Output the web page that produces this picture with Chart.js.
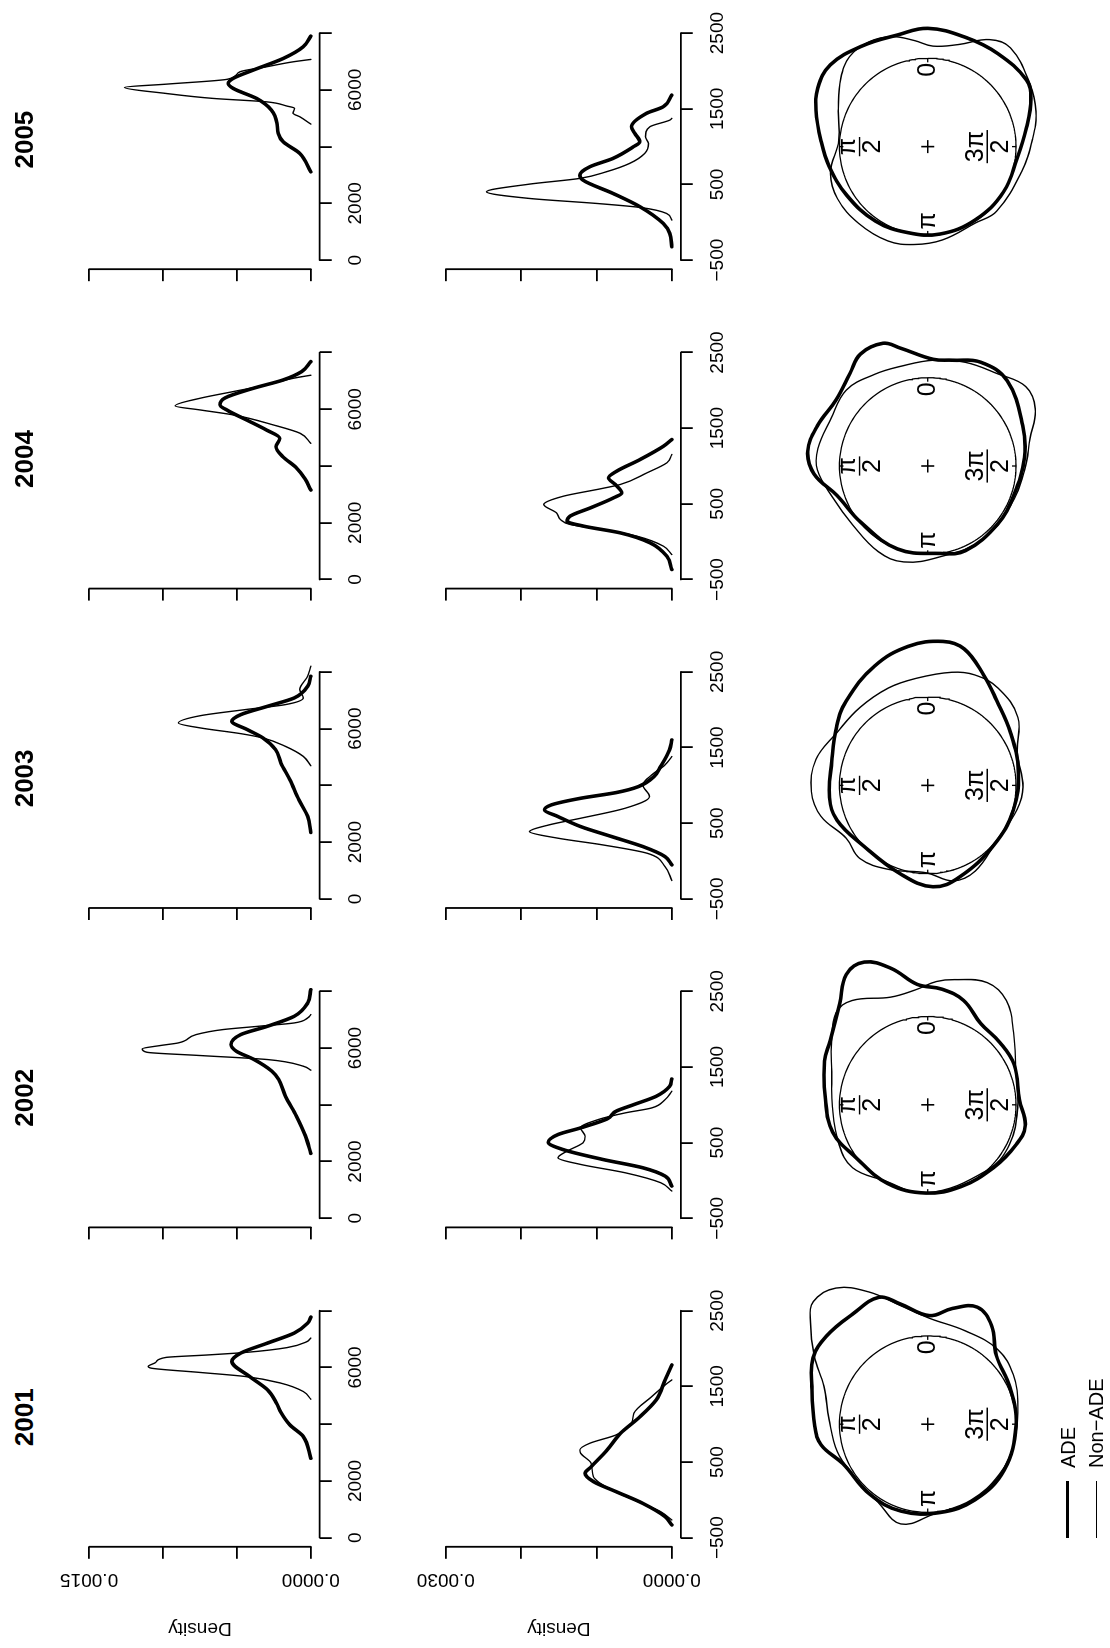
<!DOCTYPE html>
<html>
<head>
<meta charset="utf-8">
<title>Densities by year: ADE vs Non-ADE</title>
<script src="https://cdn.jsdelivr.net/npm/chart.js@4.4.1/dist/chart.umd.min.js"></script>
<style>
  html, body { margin: 0; padding: 0; background: #fff; }
  body { width: 1110px; height: 1648px; overflow: hidden; position: relative; }
  /* the figure is laid out in landscape and turned a quarter turn counter-clockwise */
  #stage { position: absolute; left: 0; top: 0; width: 1648px; height: 1110px;
           transform-origin: 0 0; transform: translate(0px, 1648px) rotate(-90deg); background: #fff; }
  #stage canvas { position: absolute; }
  .year { position: absolute; width: 120px; text-align: center;
          font: bold 26px "Liberation Sans", Arial, Helvetica, sans-serif; line-height: 26px; }
  .key { position: absolute; font: 20px "Liberation Sans", Arial, Helvetica, sans-serif;
         line-height: 20px; white-space: nowrap; }
  .keyline { position: absolute; background: #000; }
</style>
</head>
<body>
<div id="stage"></div>
<script>
const FONT = '"Liberation Sans", Arial, Helvetica, sans-serif';
Chart.defaults.font.family = FONT;
Chart.defaults.font.size = 19;
Chart.defaults.color = '#000';

const years = ['2001', '2002', '2003', '2004', '2005'];

// ---- variable A (axis 0 .. 8000): [value, density in units of 1e-4]
const adeA2001 = [[2800,0],[3565,0.51],[3976,1.42],[4412,2.02],[4741,2.32],[5212,2.93],[5682,4.14],[6212,5.34],[6506,4.74],[6859,2.93],[7212,1.12],[7565,0.21],[7776,0]];
const nonA2001 = [[4882,0],[5153,0.51],[5447,2.02],[5682,4.44],[5823,7.46],[5976,10.8],[6035,11.0],[6176,10.5],[6353,9.8],[6440,7.0],[6530,4.4],[6700,1.6],[6900,0.3],[7035,0]];
const adeA2002 = [[2287,0],[2897,0.36],[3601,0.97],[4305,1.72],[4891,2.17],[5185,2.63],[5595,3.83],[5889,5.04],[6123,5.4],[6475,4.74],[6768,2.93],[7120,1.12],[7589,0.21],[8058,0]];
const nonA2002 = [[5220,0],[5361,0.51],[5595,2.93],[5736,7.46],[5853,11.1],[5971,11.4],[6088,10.2],[6182,8.96],[6475,7.76],[6651,5.95],[6768,3.53],[6885,1.12],[7061,0.21],[7179,0]];
const adeA2003 = [[2341,0],[2906,0.21],[3494,0.81],[4200,1.42],[4788,2.02],[5259,2.38],[5671,3.23],[5965,4.29],[6259,5.34],[6494,4.74],[6788,2.93],[7082,1.12],[7494,0.21],[7847,0]];
const nonA2003 = [[4694,0],[5024,0.51],[5377,1.72],[5671,3.23],[5824,4.74],[6024,7.46],[6200,8.96],[6459,7.46],[6671,4.44],[6847,1.72],[7082,0.51],[7376,0.75],[7847,0.21],[8200,0]];
const adeA2004 = [[3153,0],[3550,0.4],[3950,1.0],[4330,1.9],[4680,2.35],[4980,2.1],[5270,3.0],[5620,4.33],[5950,5.6],[6153,6.14],[6400,5.8],[6741,3.88],[7035,1.85],[7329,0.61],[7682,0]];
const nonA2004 = [[4800,0],[5153,0.72],[5447,2.53],[5800,5.23],[5976,7.49],[6118,9.18],[6388,7.49],[6624,5.23],[6859,2.98],[7094,1.17],[7200,0]];
const adeA2005 = [[3112,0],[3760,0.74],[4169,1.87],[4465,2.21],[4817,2.28],[5286,2.66],[5698,3.67],[6050,5.25],[6227,5.59],[6403,5.25],[6695,3.9],[7106,1.87],[7517,0.52],[7894,0]];
const nonA2005 = [[4793,0],[5040,0.7],[5180,1.2],[5356,1.1],[5427,1.6],[5578,3.0],[5698,6.6],[5874,9.8],[6086,12.6],[6202,9.75],[6378,5.6],[6636,4.8],[6812,3.0],[6988,1.2],[7072,0]];

// ---- variable B (axis -500 .. 2500): [value, density in units of 1e-4]
const adeB2001 = [[-332,0],[-222,0.89],[-46,3.85],[109,7.4],[241,10.4],[351,11.5],[439,10.7],[660,8.58],[880,6.8],[1079,4.44],[1321,2.07],[1586,0.89],[1784,0]];
const nonB2001 = [[-266,0],[-156,1.48],[-24,4.44],[131,7.99],[307,10.4],[483,10.7],[616,12.1],[660,12.2],[748,10.9],[858,7.4],[1013,5.33],[1145,5.03],[1365,2.66],[1542,0.59],[1586,0]];
const adeB2002 = [[-74,0],[58,0.89],[168,3.85],[278,9.17],[410,14.5],[506,16.4],[607,15.1],[695,12.1],[814,8.58],[915,7.4],[1003,5.03],[1113,2.07],[1244,0.3],[1341,0]];
const nonB2002 = [[-140,0],[-30,1.48],[102,6.2],[212,12.1],[300,15.1],[388,13.9],[497,11.8],[585,11.5],[695,12.1],[805,9.76],[893,6.2],[959,2.66],[1069,0.89],[1179,0]];
const adeB2003 = [[-51,0],[59,0.89],[192,3.85],[324,7.99],[456,12.1],[588,15.1],[676,16.9],[742,16.0],[830,12.1],[905,7.4],[984,4.44],[1117,2.37],[1249,1.48],[1469,0.3],[1601,0]];
const nonB2003 = [[-258,0],[-73,0.89],[103,3.25],[214,9.17],[302,15.1],[390,18.9],[478,16.3],[566,12.1],[698,6.2],[852,2.96],[1007,3.85],[1139,2.66],[1271,0.89],[1381,0]];
const adeB2004 = [[-368,0],[-192,0.66],[-15,2.88],[117,6.86],[205,11.7],[271,13.9],[337,13.5],[447,10.8],[579,7.74],[645,6.64],[755,7.5],[843,8.41],[932,7.3],[1086,4.2],[1262,1.1],[1350,0]];
const nonB2004 = [[-170,0],[-60,1.1],[73,4.65],[161,9.07],[227,13.5],[293,14.8],[381,15.3],[491,17.0],[601,14.4],[689,9.96],[755,6.86],[910,3.3],[1042,0.66],[1152,0]];
const adeB2005 = [[-324,0],[-147,0.27],[-15,1.15],[204,4.2],[381,7.8],[557,11.8],[623,12.2],[733,10.9],[844,7.8],[998,5.1],[1063,4.25],[1174,4.9],[1262,5.35],[1439,3.36],[1526,1.15],[1681,0]];
const nonB2005 = [[29,0],[117,0.7],[196,4.2],[249,10],[315,18.9],[403,24.6],[504,18.9],[580,12.2],[667,8.7],[778,5.6],[910,3.6],[1042,3.1],[1130,3.5],[1262,2.9],[1350,0.27],[1373,0]];

// ---- circular densities: [angle in degrees, radius relative to the unit circle]
const adeC2001 = [[13,1.40],[21,1.54],[34,1.51],[49,1.52],[60,1.50],[72,1.38],[91,1.28],[101,1.23],[115,1.06],[140,1.03],[163,1.03],[188,1.01],[212,1.01],[239,1.01],[269,1.0],[294,1.02],[315,1.10],[327,1.33],[337,1.44],[348,1.34],[359,1.23]];
const nonC2001 = [[13,1.38],[24,1.64],[34,1.86],[43,1.90],[49,1.76],[59,1.50],[70,1.25],[87,1.12],[107,1.07],[124,1.02],[148,1.05],[165,1.17],[184,1.02],[210,0.99],[235,0.99],[256,1.0],[281,1.04],[300,1.12],[317,1.16],[338,1.14],[359,1.20]];
const adeC2002 = [[5,1.37],[15,1.60],[24,1.77],[32,1.74],[41,1.52],[57,1.32],[67,1.27],[87,1.16],[106,1.12],[126,1.01],[153,1.0],[179,1.0],[202,1.0],[226,1.03],[246,1.10],[258,1.13],[273,1.04],[295,1.08],[311,1.08],[327,1.10],[341,1.25],[353,1.32]];
const nonC2002 = [[6,1.31],[19,1.29],[36,1.46],[45,1.47],[57,1.30],[71,1.15],[91,1.08],[114,1.10],[130,1.11],[150,0.99],[179,1.0],[222,1.0],[244,1.03],[269,1.02],[291,1.07],[310,1.27],[323,1.48],[334,1.54],[348,1.45],[356,1.40]];
const adeC2003 = [[8,1.59],[24,1.48],[44,1.33],[57,1.23],[76,1.12],[97,1.12],[111,1.10],[133,1.0],[163,1.05],[183,1.15],[199,1.10],[228,1.01],[254,1.01],[279,1.04],[302,1.11],[321,1.24],[333,1.40],[345,1.60],[354,1.64]];
const nonC2003 = [[6,1.22],[22,1.19],[41,1.17],[60,1.19],[77,1.30],[93,1.32],[106,1.26],[123,1.10],[137,1.13],[155,1.05],[179,0.99],[195,1.12],[209,1.11],[232,1.0],[255,1.05],[269,1.08],[290,1.08],[307,1.28],[324,1.36],[337,1.36],[348,1.31]];
const adeC2004 = [[13,1.37],[20,1.48],[31,1.48],[40,1.37],[54,1.28],[70,1.33],[83,1.37],[94,1.29],[108,1.08],[130,0.99],[160,1.0],[188,1.0],[204,1.05],[230,1.03],[251,1.03],[275,1.10],[293,1.17],[317,1.32],[333,1.32],[347,1.23],[357,1.21]];
const nonC2004 = [[15,1.17],[30,1.20],[47,1.26],[64,1.22],[81,1.26],[92,1.25],[109,1.13],[128,1.08],[150,1.12],[166,1.12],[187,1.04],[216,1.04],[244,1.04],[268,1.10],[285,1.20],[298,1.38],[309,1.43],[323,1.31],[340,1.25],[357,1.20]];
const adeC2005 = [[0,1.34],[15,1.31],[33,1.36],[50,1.44],[62,1.41],[72,1.33],[87,1.21],[101,1.14],[121,1.07],[145,1.03],[167,1.0],[188,1.0],[213,0.99],[239,1.0],[262,1.02],[281,1.14],[295,1.29],[304,1.35],[323,1.32],[341,1.31]];
const nonC2005 = [[7,1.21],[18,1.31],[29,1.36],[41,1.35],[52,1.25],[67,1.10],[86,1.01],[105,1.14],[120,1.18],[138,1.17],[157,1.16],[172,1.12],[189,1.07],[212,1.02],[227,1.07],[255,1.10],[274,1.19],[288,1.29],[302,1.36],[320,1.46],[330,1.40],[343,1.21],[357,1.14]];

const adeA = [adeA2001, adeA2002, adeA2003, adeA2004, adeA2005];
const nonA = [nonA2001, nonA2002, nonA2003, nonA2004, nonA2005];
const adeB = [adeB2001, adeB2002, adeB2003, adeB2004, adeB2005];
const nonB = [nonB2001, nonB2002, nonB2003, nonB2004, nonB2005];
const adeC = [adeC2001, adeC2002, adeC2003, adeC2004, adeC2005];
const nonC = [nonC2001, nonC2002, nonC2003, nonC2004, nonC2005];

// ---- axis ticks and their labels
const ticksA = [0, 2000, 4000, 6000, 8000];
const tickLabelsA = ['0', '2000', '', '6000', ''];
const ticksB = [-500, 500, 1500, 2500];
const tickLabelsB = ['\u2212500', '500', '1500', '2500'];
const densTicksA = [0, 0.0005, 0.001, 0.0015];
const densLabelsA = ['0.0000', '', '', '0.0015'];
const densTicksB = [0, 0.001, 0.002, 0.003];
const densLabelsB = ['0.0000', '', '', '0.0030'];
const legendLabels = ['ADE', 'Non\u2212ADE'];

// ---- drawing constants
const DENS_UNIT = 1e-4;
const THICK = 3.6, THIN = 1.4, AXIS_LW = 1.8, TICK_LEN = 12;
const COL0 = 110.3, COL_STEP = 319.4;          // x of the value-axis origin in the first column, column pitch
const AXIS_W = 110, AXIS_H = 60, TOP_M = 40, RIGHT_M = 30;
const CIRC_DX = 113.5, CIRC_CY = 927.7, CIRC_R = 92, CIRC_HALF = 200;
const YEAR_DX = 120.5, YEAR_TOP = 10.5;

const panelA = { xr: [-320, 8320], xOrigin: 0, pxX: 227 / 8000, yr: [-0.00006, 0.00156], zeroY: 310.8, pxY: 147800,
                 xTicks: ticksA, xLabels: tickLabelsA, yTicks: densTicksA, yLabels: densLabelsA, ade: adeA, non: nonA, xPad: 12.5 };
const panelB = { xr: [-620, 2620], xOrigin: -500, pxX: 227 / 3000, yr: [-0.00012, 0.00312], zeroY: 671.8, pxY: 75330,
                 xTicks: ticksB, xLabels: tickLabelsB, yTicks: densTicksB, yLabels: densLabelsB, ade: adeB, non: nonB, xPad: 13.5 };

const stage = document.getElementById('stage');

function mkCanvas(left, top, w, h) {
  const c = document.createElement('canvas');
  c.width = w; c.height = h;
  c.style.left = left + 'px'; c.style.top = top + 'px';
  c.style.width = w + 'px'; c.style.height = h + 'px';
  stage.appendChild(c);
  return c;
}

// axis lines that run only from the first to the last tick
const axisLines = {
  id: 'axisLines',
  afterDraw(chart) {
    const { ctx, chartArea: a, scales: { x, y } } = chart;
    const xt = x.ticks, yt = y.ticks;
    ctx.save();
    ctx.strokeStyle = '#000';
    ctx.lineWidth = AXIS_LW;
    ctx.lineCap = 'round';
    ctx.beginPath();
    ctx.moveTo(x.getPixelForValue(xt[0].value), a.bottom);
    ctx.lineTo(x.getPixelForValue(xt[xt.length - 1].value), a.bottom);
    ctx.moveTo(a.left, y.getPixelForValue(yt[0].value));
    ctx.lineTo(a.left, y.getPixelForValue(yt[yt.length - 1].value));
    ctx.stroke();
    ctx.restore();
  }
};

function toXY(pairs) { return pairs.map(p => ({ x: p[0], y: p[1] * DENS_UNIT })); }

function densityPanel(k, p) {
  const v0 = COL0 + COL_STEP * k;
  const boxL = v0 + (p.xr[0] - p.xOrigin) * p.pxX;
  const boxW = (p.xr[1] - p.xr[0]) * p.pxX;
  const boxT = p.zeroY - p.yr[1] * p.pxY;
  const boxH = (p.yr[1] - p.yr[0]) * p.pxY;
  const cL = Math.floor(boxL - AXIS_W);
  const cT = Math.floor(boxT - TOP_M);
  const W = Math.ceil(boxL + boxW + RIGHT_M) - cL;
  const H = Math.ceil(boxT + boxH + AXIS_H) - cT;
  const pad = {
    left: boxL - AXIS_W - cL,
    top: boxT - cT,
    right: W - (boxL - cL) - boxW,
    bottom: H - (boxT - cT) - boxH - AXIS_H
  };
  const first = k === 0;
  const grid = { display: true, drawOnChartArea: false, drawTicks: true, tickLength: TICK_LEN, color: '#000', lineWidth: AXIS_LW };
  const line = (data, w) => ({ data, borderColor: '#000', borderWidth: w, pointRadius: 0, showLine: true,
                               cubicInterpolationMode: 'monotone', borderCapStyle: 'round', borderJoinStyle: 'round' });
  new Chart(mkCanvas(cL, cT, W, H), {
    type: 'scatter',
    data: { datasets: [ line(toXY(p.ade[k]), THICK), line(toXY(p.non[k]), THIN) ] },
    options: {
      responsive: false, animation: false, devicePixelRatio: 1, events: [],
      layout: { padding: pad },
      plugins: { legend: { display: false }, tooltip: { enabled: false }, title: { display: false } },
      scales: {
        x: {
          type: 'linear', position: 'bottom', min: p.xr[0], max: p.xr[1],
          afterBuildTicks: s => { s.ticks = p.xTicks.map(v => ({ value: v })); },
          afterFit: s => { s.height = AXIS_H; },
          border: { display: false }, grid,
          ticks: { autoSkip: false, minRotation: 0, maxRotation: 0, padding: p.xPad, color: '#000',
                   callback: (v, i) => p.xLabels[i] }
        },
        y: {
          type: 'linear', position: 'left', min: p.yr[0], max: p.yr[1],
          afterBuildTicks: s => { s.ticks = p.yTicks.map(v => ({ value: v })); },
          afterFit: s => { s.width = AXIS_W; },
          border: { display: false }, grid,
          ticks: { display: first, autoSkip: false, minRotation: 90, maxRotation: 90, crossAlign: 'center',
                   padding: -9, color: '#000', callback: (v, i) => p.yLabels[i] },
          title: { display: first, text: 'Density', color: '#000', padding: { top: 17.6, bottom: 0 } }
        }
      }
    },
    plugins: [axisLines]
  });
}

// ---- circular panels
const unitCircle = Array.from({ length: 181 }, (_, i) => {
  const a = i * Math.PI / 90;
  return { x: Math.cos(a), y: Math.sin(a) };
});

function loopDataset(pairs, width) {
  const pts = pairs.map(([deg, r]) => ({ x: r * Math.cos(deg * Math.PI / 180), y: r * Math.sin(deg * Math.PI / 180) }));
  const n = pts.length;
  // wrap the ends so the closing stretch is as smooth as the rest; the wrap segments are left unpainted
  const data = [pts[n - 1], ...pts, pts[0], pts[1]];
  return {
    data, borderColor: '#000', borderWidth: width, pointRadius: 0, showLine: true, tension: 0.4,
    borderJoinStyle: 'round',
    segment: { borderColor: s => (s.p0DataIndex === 0 || s.p0DataIndex === n + 1) ? 'rgba(0,0,0,0)' : undefined }
  };
}

// quarter-angle labels; a denominator turns the label into a stacked fraction
const quarterAngles = [0, 90, 180, 270];
const quarterNum = ['0', '\u03C0', '\u03C0', '3\u03C0'];
const quarterDen = [null, '2', null, '2'];
const quarterLabelR = [0.87, 0.772, 0.84, 0.674];   // radius of the label anchor (fraction bar for fractions)
const LABEL_FS = 25;

const circleDecor = {
  id: 'circleDecor',
  afterDatasetsDraw(chart) {
    const { ctx, scales: { x, y } } = chart;
    const px = v => x.getPixelForValue(v), py = v => y.getPixelForValue(v);
    ctx.save();
    ctx.strokeStyle = '#000'; ctx.fillStyle = '#000'; ctx.lineWidth = 1.3;
    // short inward ticks on the unit circle
    quarterAngles.forEach(deg => {
      const a = deg * Math.PI / 180;
      ctx.beginPath();
      ctx.moveTo(px(Math.cos(a)), py(Math.sin(a)));
      ctx.lineTo(px(0.955 * Math.cos(a)), py(0.955 * Math.sin(a)));
      ctx.stroke();
    });
    ctx.font = LABEL_FS + 'px ' + FONT;
    ctx.textAlign = 'center'; ctx.textBaseline = 'middle';
    quarterAngles.forEach((deg, i) => {
      const a = deg * Math.PI / 180;
      const cx = px(quarterLabelR[i] * Math.cos(a)), cy = py(quarterLabelR[i] * Math.sin(a));
      if (quarterDen[i] === null) {
        ctx.fillText(quarterNum[i], cx, cy);
      } else {
        const w = ctx.measureText(quarterNum[i]).width;
        ctx.fillText(quarterNum[i], cx, cy - 11);
        ctx.fillText(quarterDen[i], cx, cy + 14);
        ctx.beginPath();
        ctx.lineWidth = 1.4;
        ctx.moveTo(cx - w / 2 - 1, cy);
        ctx.lineTo(cx + w / 2 + 1, cy);
        ctx.stroke();
      }
    });
    ctx.restore();
  }
};

function circlePanel(k) {
  const v0 = COL0 + COL_STEP * k;
  const cx = v0 + CIRC_DX, cy = CIRC_CY;
  const size = 2 * CIRC_HALF;
  const left = Math.round(cx - CIRC_HALF), top = Math.round(cy - CIRC_HALF);
  const u = px => px / CIRC_R;
  new Chart(mkCanvas(left, top, size, size), {
    type: 'scatter',
    data: { datasets: [
      { data: unitCircle, borderColor: '#000', borderWidth: 1.3, pointRadius: 0, showLine: true, tension: 0 },
      loopDataset(adeC[k], THICK),
      loopDataset(nonC[k], THIN),
      { data: [{ x: 0, y: 0 }], pointStyle: 'cross', pointRadius: 6.5, pointBorderWidth: 1.6,
        borderColor: '#000', backgroundColor: '#000', showLine: false }
    ] },
    options: {
      responsive: false, animation: false, devicePixelRatio: 1, events: [],
      layout: { padding: 0 },
      plugins: { legend: { display: false }, tooltip: { enabled: false } },
      scales: {
        x: { type: 'linear', display: false, min: u(left - cx), max: u(left + size - cx) },
        y: { type: 'linear', display: false, min: u(cy - (top + size)), max: u(cy - top) }
      }
    },
    plugins: [circleDecor]
  });
}

function addYear(k) {
  const d = document.createElement('div');
  d.className = 'year';
  d.textContent = years[k];
  d.style.left = (COL0 + COL_STEP * k + YEAR_DX - 60) + 'px';
  d.style.top = YEAR_TOP + 'px';
  stage.appendChild(d);
}

function addLegend() {
  const rowsY = [1067.7, 1096.3];
  const widths = [THICK, THIN];
  legendLabels.forEach((txt, i) => {
    const ln = document.createElement('div');
    ln.className = 'keyline';
    ln.style.left = '110px'; ln.style.width = '57px';
    ln.style.top = (rowsY[i] - widths[i] / 2) + 'px'; ln.style.height = widths[i] + 'px';
    stage.appendChild(ln);
    const t = document.createElement('div');
    t.className = 'key';
    t.textContent = txt;
    t.style.left = '180px'; t.style.top = (rowsY[i] - 10) + 'px';
    stage.appendChild(t);
  });
}

for (let k = 0; k < years.length; k++) {
  densityPanel(k, panelA);
  densityPanel(k, panelB);
  circlePanel(k);
  addYear(k);
}
addLegend();
</script>
</body>
</html>
